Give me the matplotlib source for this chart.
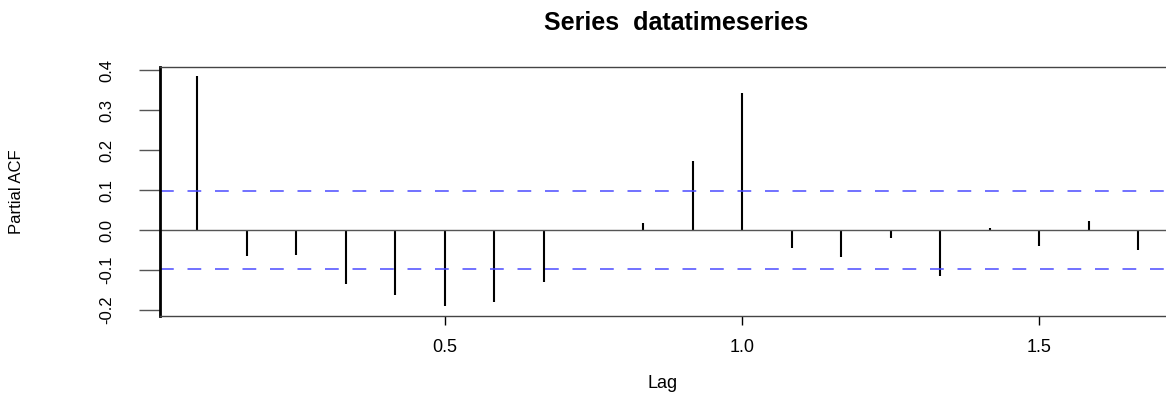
import matplotlib
matplotlib.use("Agg")
import matplotlib.pyplot as plt
import numpy as np

lags = [i / 12 for i in range(1, 21)]
pacf_vals = [0.385, -0.065, -0.0625, -0.136, -0.163, -0.19, -0.181, -0.131,
             -0.002, 0.018, 0.173, 0.3425, -0.045, -0.0675, -0.021, -0.115,
             0.004, -0.041, 0.0225, -0.051]
ci = 0.098
xticks = [0.5, 1.0, 1.5]
xtick_labels = ["0.5", "1.0", "1.5"]
yticks = [-0.2, -0.1, 0.0, 0.1, 0.2, 0.3, 0.4]
ytick_labels = ["-0.2", "-0.1", "0.0", "0.1", "0.2", "0.3", "0.4"]

plt.rcParams['font.family'] = ['Liberation Sans', 'DejaVu Sans']

W, H = 1166, 397
fig = plt.figure(figsize=(W / 100, H / 100), dpi=100)
ax = fig.add_axes([160 / W, (H - 316) / H, (W - 160) / W, (316 - 67) / H])

ax.vlines(lags, 0, pacf_vals, colors='black', linewidth=1.5)
ax.axhline(0, color='#555555', linewidth=1.0)
ax.axhline(ci, color='#4a4aff', linestyle=(0, (9, 9)), linewidth=1.1)
ax.axhline(-ci, color='#4a4aff', linestyle=(0, (9, 9)), linewidth=1.1)

ax.set_xlim(0.0207, 1.713)
ax.set_ylim(-0.215, 0.4075)

for s in ['top', 'bottom']:
    ax.spines[s].set_color('#444444')
    ax.spines[s].set_linewidth(1.0)
ax.spines['left'].set_color('black')
ax.spines['left'].set_linewidth(2.0)
ax.spines['right'].set_visible(False)

ax.set_xticks(xticks)
ax.set_xticklabels(xtick_labels, fontsize=13)
ax.set_yticks(yticks)
ax.set_yticklabels(ytick_labels, fontsize=12, rotation=90, va='center')
ax.tick_params(axis='x', length=6.5, width=1, pad=10, color='black')
ax.tick_params(axis='y', length=15, width=1, pad=18, color='#555555')

ax.set_xlabel("Lag", fontsize=13, labelpad=14)
ax.set_ylabel("Partial ACF", fontsize=12, va='center')
ax.yaxis.set_label_coords(-0.143, 0.5)

fig.text(676 / W, 1 - 23 / H, "Series  datatimeseries", ha='center', va='center',
         fontsize=18, fontweight='bold')

fig.savefig("out.png", dpi=100)
